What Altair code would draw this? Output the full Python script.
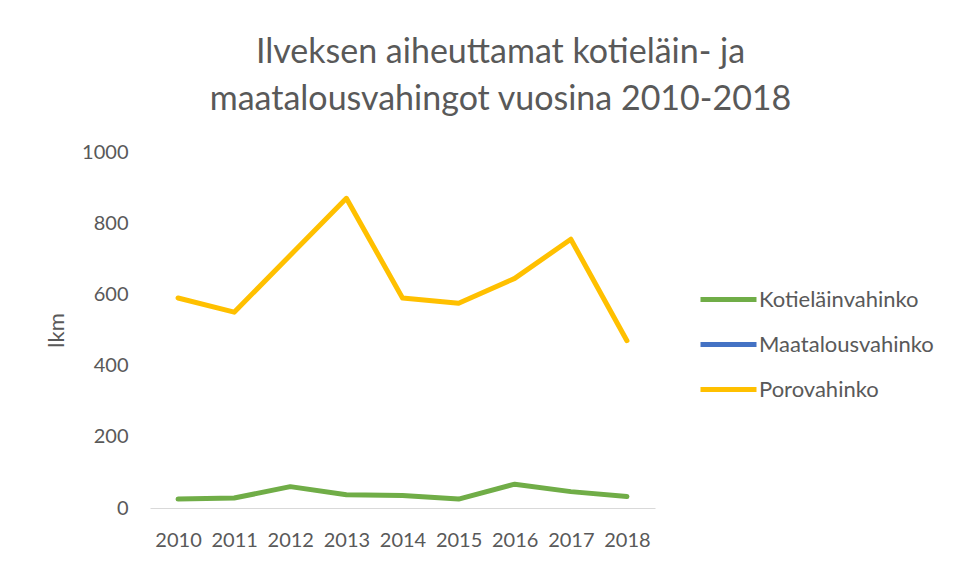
import altair as alt
import pandas as pd

years = ["2010", "2011", "2012", "2013", "2014", "2015", "2016", "2017", "2018"]
kotielain = [25, 28, 60, 37, 35, 25, 67, 46, 32]
maatalous = [None, None, None, None, None, None, None, None, None]
porot = [590, 550, 710, 870, 590, 575, 645, 755, 470]
series_names = ["Kotieläinvahinko", "Maatalousvahinko", "Porovahinko"]
series_colors = ["#70AD47", "#4472C4", "#FFC000"]

rows = []
for name, vals in zip(series_names, [kotielain, maatalous, porot]):
    for y, v in zip(years, vals):
        rows.append({"Vuosi": y, "Sarja": name, "lkm": v})
df = pd.DataFrame(rows)

FONT = "Lato"
GREY = "#595959"

chart = alt.Chart(df).mark_line(strokeWidth=5, strokeCap="round", strokeJoin="round").encode(
    x=alt.X("Vuosi:O", sort=years,
            scale=alt.Scale(type="point", padding=0.5),
            axis=alt.Axis(title=None, labelAngle=0, ticks=False, domainColor="#D9D9D9",
                          domainWidth=1, labelPadding=22, labelFontSize=20,
                          labelColor=GREY, labelFont=FONT, grid=False)),
    y=alt.Y("lkm:Q", scale=alt.Scale(domain=[0, 1000]),
            axis=alt.Axis(title="lkm", values=[0, 200, 400, 600, 800, 1000], format="d",
                          domain=False, ticks=False, grid=False, labelPadding=22,
                          labelFontSize=20, labelColor=GREY, labelFont=FONT,
                          titleFont=FONT, titleFontSize=22, titleFontWeight="normal",
                          titleColor=GREY, titleX=-94, titleY=178, titleAngle=-90,
                          titleAlign="center", titleBaseline="middle")),
    color=alt.Color("Sarja:N", sort=series_names,
                    scale=alt.Scale(domain=series_names, range=series_colors),
                    legend=alt.Legend(title=None, orient="none", legendX=548, legendY=117,
                                      symbolType="stroke", symbolSize=3136,
                                      symbolStrokeWidth=5, labelFontSize=22,
                                      labelColor=GREY, labelFont=FONT, rowPadding=3,
                                      labelOffset=0, labelLimit=300)),
    order=alt.Order("Sarja:N"),
).properties(
    width=505,
    height=356,
    title=alt.TitleParams(
        text=["Ilveksen aiheuttamat kotieläin- ja", "maatalousvahingot vuosina 2010-2018"],
        anchor="middle", dx=98, fontSize=34, font=FONT, fontWeight="normal",
        color=GREY, lineHeight=47, offset=25),
    autosize=alt.AutoSizeParams(type="none"),
    padding={"left": 142, "top": 144, "right": 291, "bottom": 52},
).configure(background="white").configure_view(strokeWidth=0)

chart.save("out.html", embed_options={"renderer": "svg", "actions": False})
